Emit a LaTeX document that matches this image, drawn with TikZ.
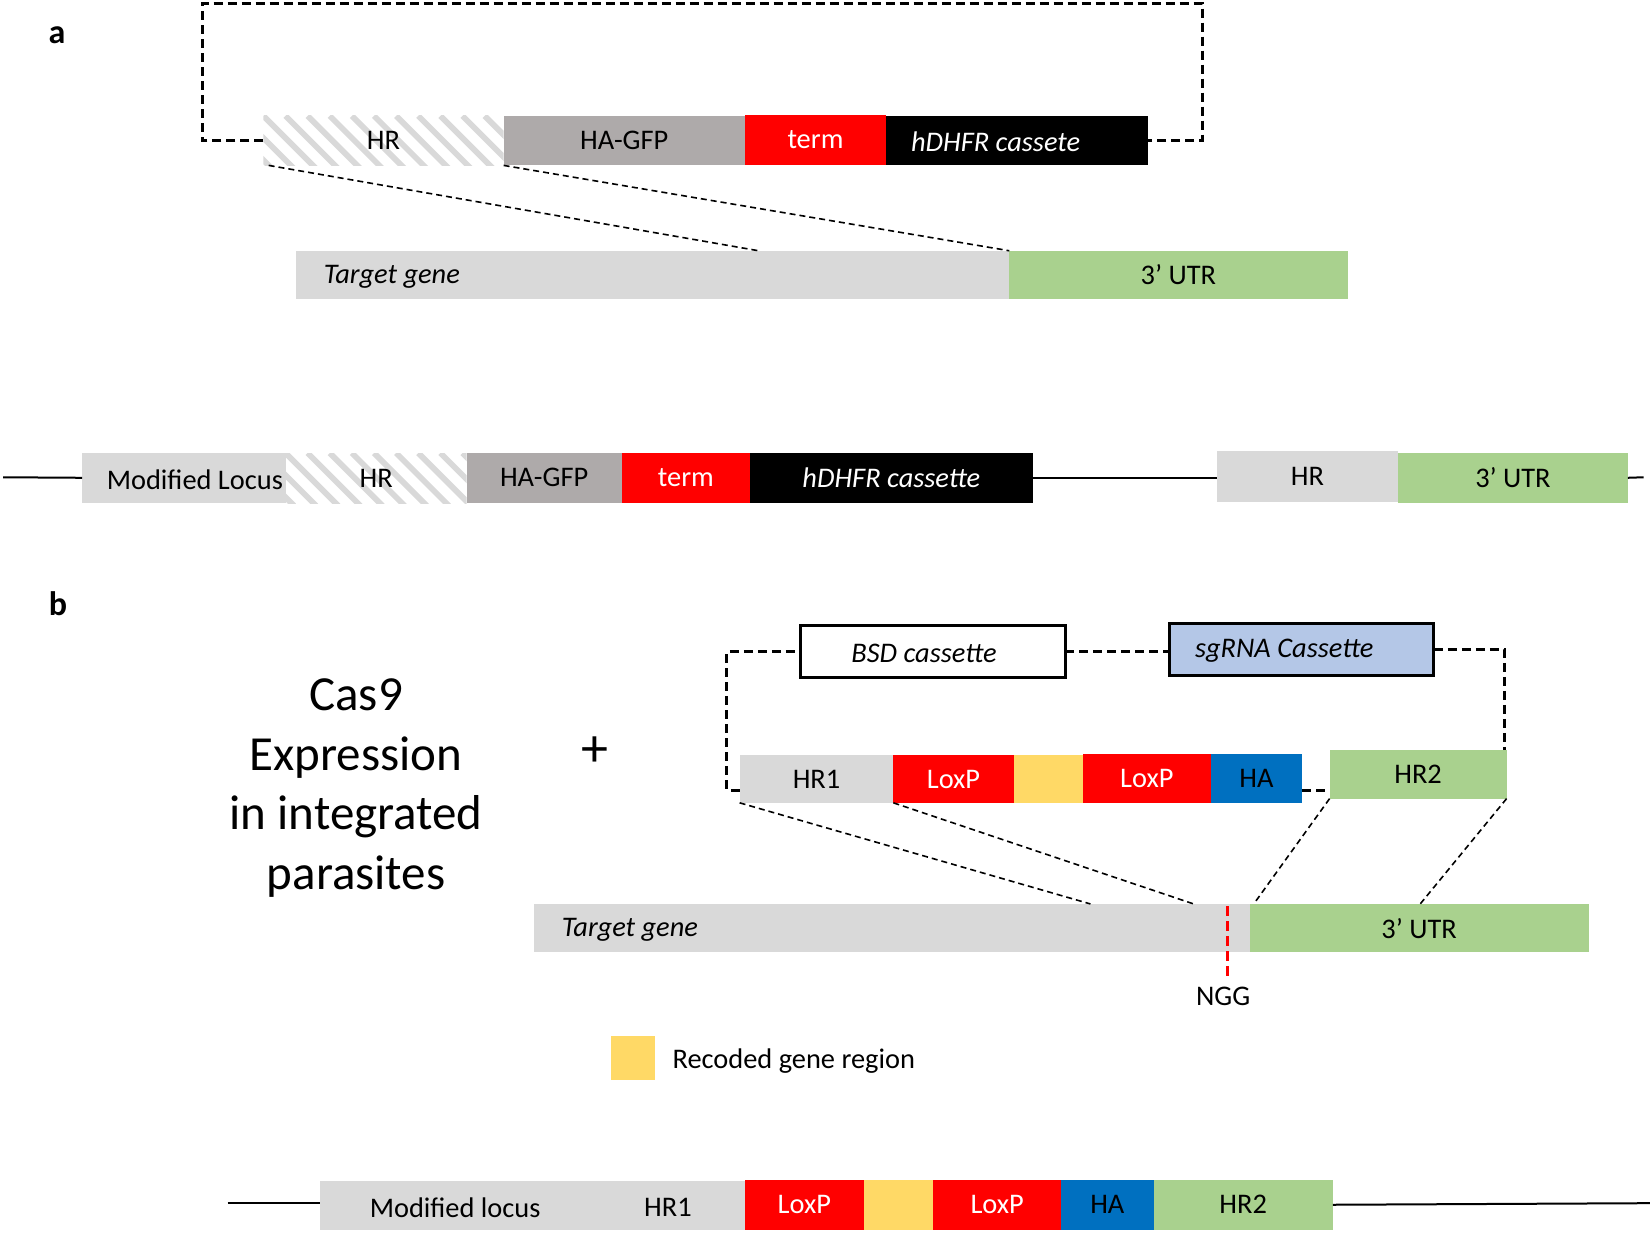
\documentclass[tikz,border=0pt]{standalone}
\usepackage{fontspec}
\setmainfont{Carlito}
\usetikzlibrary{calc}
\definecolor{lgray}{HTML}{D9D9D9}
\definecolor{gfpgray}{HTML}{AEAAAA}
\definecolor{ured}{HTML}{FF0000}
\definecolor{ugreen}{HTML}{A9D18E}
\definecolor{uyellow}{HTML}{FFD966}
\definecolor{ublue}{HTML}{0070C0}
\definecolor{sgblue}{HTML}{B4C7E7}
\newcommand\myfs{\fontsize{14.2}{17}\selectfont}
\newcommand\blk[7]{\node[blkbase,#6,minimum width={(#4-#2)*0.5268pt},minimum height={(#5-#3)*0.5268pt},anchor=north west] (#1) at (#2,#3) {#7};}
\tikzset{
  blkbase/.style={rectangle, inner sep=0pt, outer sep=0pt, font=\myfs},
  txt/.style={inner sep=0pt, font=\myfs},
  itxt/.style={inner sep=0pt, font=\myfs\itshape},
  hatch/.style={path picture={
     \foreach \k in {-4,...,12}{
       \draw[lgray, line width=2.9pt] ([xshift=\k*21*0.5268pt]path picture bounding box.north west) -- ++(50,50);
     }}},
  loopdash/.style={line width=1.5pt, dash pattern=on 4.5pt off 2.5pt},
  thindash/.style={line width=0.8pt, dash pattern=on 3pt off 2pt},
  locusline/.style={line width=1pt},
}
\begin{document}
\begin{tikzpicture}[x=0.5268pt, y=-0.5268pt]
\useasboundingbox[fill=white] (0,0) rectangle (1568,1171);

% ---------------- part a ----------------
\node[font=\fontsize{17}{19}\selectfont\bfseries, inner sep=0pt] (lbla) at (54,33) {a};

\blk{hr}{250}{110}{478}{157}{hatch}{HR}
\blk{gfp}{478}{110}{707}{157}{fill=gfpgray}{HA-GFP}
\blk{term}{707}{109}{841}{157}{fill=ured,text=white}{term}
\blk{dh}{841}{110}{1090}{157}{fill=black}{}
\node[itxt, text=white] (dht) at (945,135) {hDHFR cassete};

\coordinate (lt) at (192,3);
\coordinate (rt) at (1141,3);
\draw[loopdash] (hr.west) -| (lt) -- (rt) |- (dh.east);

\blk{tg}{281}{238}{958}{284}{fill=lgray}{}
\node[itxt, anchor=west] (tgt) at (307,263) {Target gene};
\blk{utr}{958}{238}{1279}{284}{fill=ugreen}{3’ UTR}

\coordinate (c1) at (720,238);
\draw[thindash] ([xshift=5*0.5268pt]hr.south west) -- (c1);
\draw[thindash] (hr.south east) -- (tg.north east);

% modified locus row a
\blk{ml}{78}{430}{271}{477}{fill=lgray}{}
\node[txt] (mlt) at (185,455) {Modified Locus};
\blk{hrb}{271}{430}{443}{478}{hatch}{HR}
\blk{gfpb}{443}{430}{590}{477}{fill=gfpgray}{HA-GFP}
\blk{termb}{590}{430}{712}{477}{fill=ured,text=white}{term}
\blk{dhb}{712}{430}{980}{477}{fill=black,text=white,font=\myfs\itshape}{hDHFR cassette}
\blk{hrc}{1155}{428}{1327}{476}{fill=lgray}{HR}
\blk{utrb}{1327}{430}{1545}{477}{fill=ugreen}{3’ UTR}
\coordinate (la) at (3,453);
\coordinate (lb) at (1560,453);
\draw[locusline] (la) -- (ml.west);
\draw[locusline] (dhb.east) -- (dhb.east -| hrc.west);
\draw[locusline] (utrb.east) -- (lb);

% ---------------- part b ----------------
\node[font=\fontsize{17}{19}\selectfont\bfseries, inner sep=0pt] (lblb) at (55,573) {b};
\node[inner sep=0pt, align=center, font=\fontsize{24.5}{29.8}\selectfont] (cas) at (338,748) {Cas9\\Expression\\in integrated\\parasites};
\node[inner sep=0pt, font=\fontsize{27}{29}\selectfont] (plus) at (565,713) {+};

\blk{bsd}{760}{594}{1011}{643}{draw, line width=1.5pt, fill=white}{}
\node[itxt] (bsdt) at (877,620) {BSD cassette};
\blk{sg}{1110}{592}{1361}{641}{draw, line width=1.5pt, fill=sgblue}{}
\node[itxt] (sgt) at (1219,618) {sgRNA Cassette};

\blk{hr1}{702}{717}{848}{762}{fill=lgray}{HR1}
\blk{lox1}{848}{717}{962}{762}{fill=ured,text=white}{LoxP}
\blk{rec}{962}{717}{1028}{762}{fill=uyellow}{}
\blk{lox2}{1028}{716}{1149}{762}{fill=ured,text=white}{LoxP}
\blk{ha}{1149}{716}{1236}{762}{fill=ublue}{HA}
\blk{hr2}{1262}{712}{1430}{758}{fill=ugreen}{HR2}

\coordinate (bl) at (690,750);
\coordinate (yb) at (0,750);
\draw[loopdash] (hr1.west |- yb) -- (bl) |- (bsd.west);
\draw[loopdash] (bsd.east) -- (bsd.east -| sg.west);
\draw[loopdash] (sg.east) -| ([xshift=-2*0.5268pt]hr2.north east);
\draw[loopdash] (ha.east |- yb) -- (hr2.west |- yb);

\blk{tg2}{507}{858}{1186}{904}{fill=lgray}{}
\node[itxt, anchor=west] (tgt2) at (533,883) {Target gene};
\blk{utr2}{1186}{858}{1508}{904}{fill=ugreen}{3’ UTR}

\coordinate (d1) at (1035,858);
\coordinate (d2) at (1133,858);
\coordinate (d3) at (1190,858);
\coordinate (d4) at (1348,858);
\draw[thindash] (hr1.south west) -- (d1);
\draw[thindash] (hr1.south east) -- (d2);
\draw[thindash] (hr2.south west) -- (d3);
\draw[thindash] (hr2.south east) -- (d4);

\coordinate (ngA) at (1165,860);
\coordinate (ngB) at (1165,928);
\draw[ured, line width=1.8pt, dash pattern=on 5pt off 2.5pt] (ngA) -- (ngB);
\node[txt] (ngg) at (1161,946) {NGG};

\blk{leg}{580}{983}{622}{1025}{fill=uyellow}{}
\node[txt, anchor=west] (legt) at (638,1007) {Recoded gene region};

% modified locus row b
\blk{mlb}{304}{1121}{707}{1167}{fill=lgray}{}
\node[txt] (mlbt) at (432,1146) {Modified locus};
\node[txt] (hr1bt) at (634,1146) {HR1};
\blk{lox3}{707}{1120}{820}{1167}{fill=ured,text=white}{LoxP}
\blk{rec2}{820}{1120}{886}{1167}{fill=uyellow}{}
\blk{lox4}{886}{1120}{1007}{1167}{fill=ured,text=white}{LoxP}
\blk{ha2}{1007}{1120}{1095}{1167}{fill=ublue}{HA}
\blk{hr2b}{1095}{1120}{1265}{1167}{fill=ugreen}{HR2}
\coordinate (lc) at (216,1142);
\coordinate (ld) at (1566,1142);
\draw[locusline] (lc) -- (lc -| mlb.west);
\draw[locusline] (hr2b.east) -- (ld);
\end{tikzpicture}
\end{document}
